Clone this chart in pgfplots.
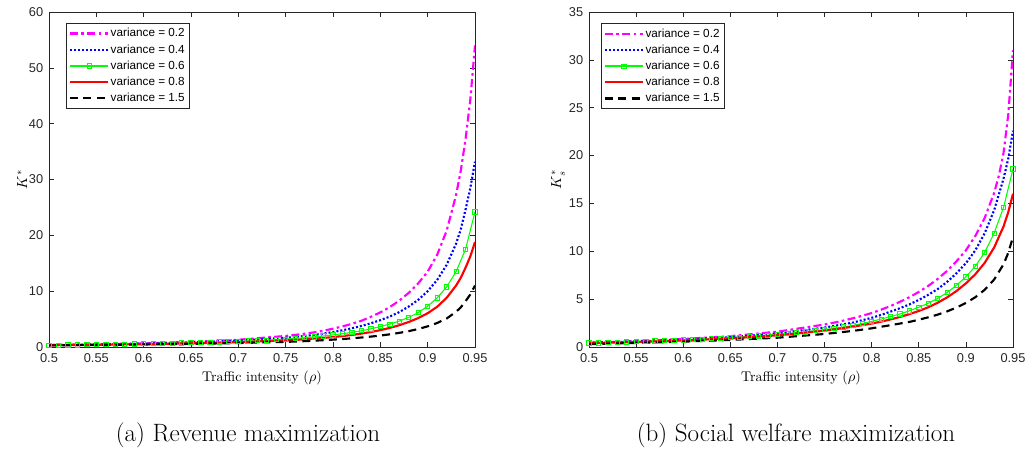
\documentclass[border=0pt]{standalone}
\usepackage{fontspec}
\setsansfont{Liberation Sans}
\usepackage{pgfplots}
\pgfplotsset{compat=1.18}

\definecolor{axgray}{RGB}{38,38,38}
\definecolor{mmag}{RGB}{255,0,255}
\definecolor{mblu}{RGB}{0,0,255}
\definecolor{mgrn}{RGB}{0,255,0}
\definecolor{mred}{RGB}{255,0,0}

\pgfplotsset{
  mlab/.style={
    scale only axis, height=251.25pt,
    xmin=0.5, xmax=0.95, ymin=0,
    xtick={0.5,0.55,0.6,0.65,0.7,0.75,0.8,0.85,0.9,0.95},
    tick align=inside, xtick pos=both, ytick pos=both,
    xticklabel pos=lower, yticklabel pos=left,
    major tick length=3.5pt,
    axis line style={axgray, line width=0.5pt},
    every tick/.style={axgray, line width=0.5pt},
    ticklabel style={font=\sffamily\fontsize{9.6}{11}\selectfont, text=axgray},
    xticklabel style={yshift=-1.2pt},
    yticklabel style={xshift=-0.8pt},
    /pgf/number format/assume math mode=true,
    xlabel={Traffic intensity ($\rho$)},
    xlabel style={at={(axis description cs:0.5,-0.0925)}, anchor=center,
      font=\fontsize{10.5}{12}\selectfont},
    ylabel style={anchor=center, font=\fontsize{10.5}{12}\selectfont},
    legend cell align=left,
    legend style={anchor=north west, draw=axgray, line width=0.5pt, fill=white,
      font=\sffamily\fontsize{8.8}{10}\selectfont, text=black,
      inner xsep=2pt, inner ysep=1.5pt, row sep=0pt,
      nodes={inner sep=1.2pt, text height=7.5pt, text depth=2.25pt}},
    legend image code/.code={\draw[mark repeat=2,mark phase=2,#1]
      plot coordinates {(0cm,0cm) (0.5cm,0cm) (1cm,0cm)};},
  },
  vmag/.style={draw=mmag, color=mmag, line width=1.6pt, dash pattern=on 6pt off 2.5pt on 2pt off 2.5pt},
  vblu/.style={draw=mblu, color=mblu, line width=1.6pt, dash pattern=on 1.5pt off 1.5pt},
  vgrn/.style={draw=mgrn, color=mgrn, line width=0.8pt, mark=square, mark size=1.6pt,
    mark options={solid, draw=mgrn, line width=0.6pt},
    legend image post style={draw=mgrn, line width=1pt}},
  vred/.style={draw=mred, color=mred, line width=1.6pt},
  vblk/.style={draw=black, color=black, line width=1.6pt, dash pattern=on 6pt off 4pt},
}

\begin{document}
\begin{tikzpicture}
\useasboundingbox (0pt,0pt) rectangle (769.5pt,343.5pt);

% (a) revenue maximization
\begin{axis}[mlab, at={(36.75pt,83.25pt)}, anchor=south west, width=319.5pt,
  ymax=60, ytick={0,10,20,30,40,50,60},
  ylabel={$K^*$}, ylabel style={at={(axis description cs:-0.063,0.5)}},
  legend style={at={(0.04,0.967)}}]
\addplot[vmag] coordinates {(0.50,0.35) (0.55,0.48) (0.60,0.66) (0.65,0.92) (0.70,1.30) (0.75,1.98) (0.76,2.17) (0.77,2.38) (0.78,2.62) (0.79,2.92) (0.80,3.28) (0.81,3.68) (0.82,4.15) (0.83,4.70) (0.84,5.40) (0.85,6.20) (0.86,7.15) (0.87,8.30) (0.88,9.70) (0.89,11.4) (0.90,13.5) (0.91,16.5) (0.92,20.8) (0.93,27.2) (0.935,31.6) (0.94,37.2) (0.945,44.2) (0.95,54.0)};
\addlegendentry{variance = 0.2}
\addplot[vblu] coordinates {(0.50,0.34) (0.55,0.45) (0.60,0.60) (0.65,0.82) (0.70,1.13) (0.75,1.65) (0.76,1.80) (0.77,1.97) (0.78,2.17) (0.79,2.40) (0.80,2.68) (0.81,3.00) (0.82,3.36) (0.83,3.77) (0.84,4.25) (0.85,4.80) (0.86,5.45) (0.87,6.25) (0.88,7.25) (0.89,8.45) (0.90,10.0) (0.91,12.0) (0.92,14.7) (0.93,18.5) (0.935,21.1) (0.94,24.6) (0.945,28.4) (0.95,33.2)};
\addlegendentry{variance = 0.4}
\addplot[vgrn] coordinates {(0.50,0.33) (0.51,0.35) (0.52,0.37) (0.53,0.39) (0.54,0.41) (0.55,0.44) (0.56,0.46) (0.57,0.49) (0.58,0.52) (0.59,0.55) (0.60,0.58) (0.61,0.61) (0.62,0.64) (0.63,0.68) (0.64,0.72) (0.65,0.76) (0.66,0.80) (0.67,0.85) (0.68,0.90) (0.69,0.96) (0.70,1.02) (0.71,1.08) (0.72,1.15) (0.73,1.23) (0.74,1.32) (0.75,1.42) (0.76,1.53) (0.77,1.66) (0.78,1.81) (0.79,1.98) (0.80,2.17) (0.81,2.38) (0.82,2.62) (0.83,2.91) (0.84,3.25) (0.85,3.66) (0.86,4.10) (0.87,4.64) (0.88,5.30) (0.89,6.16) (0.90,7.30) (0.91,8.80) (0.92,10.75) (0.93,13.5) (0.94,17.5) (0.95,24.2)};
\addlegendentry{variance = 0.6}
\addplot[vred] coordinates {(0.50,0.31) (0.55,0.40) (0.60,0.51) (0.65,0.66) (0.70,0.87) (0.75,1.18) (0.76,1.27) (0.77,1.37) (0.78,1.49) (0.79,1.62) (0.80,1.78) (0.81,1.96) (0.82,2.16) (0.83,2.40) (0.84,2.68) (0.85,3.02) (0.86,3.42) (0.87,3.90) (0.88,4.48) (0.89,5.18) (0.90,6.05) (0.91,7.20) (0.92,8.80) (0.93,11.0) (0.935,12.4) (0.94,14.2) (0.945,16.2) (0.95,18.8)};
\addlegendentry{variance = 0.8}
\addplot[vblk] coordinates {(0.50,0.29) (0.55,0.36) (0.60,0.45) (0.65,0.56) (0.70,0.71) (0.75,0.92) (0.76,0.98) (0.77,1.05) (0.78,1.13) (0.79,1.22) (0.80,1.32) (0.81,1.43) (0.82,1.55) (0.83,1.70) (0.84,1.86) (0.85,2.05) (0.86,2.27) (0.87,2.53) (0.88,2.84) (0.89,3.22) (0.90,3.70) (0.91,4.30) (0.92,5.10) (0.93,6.30) (0.935,7.10) (0.94,8.20) (0.945,9.40) (0.95,11.0)};
\addlegendentry{variance = 1.5}
\end{axis}

% (b) social welfare maximization
\begin{axis}[mlab, at={(441.75pt,83.25pt)}, anchor=south west, width=318pt,
  ymax=35, ytick={0,5,10,15,20,25,30,35},
  ylabel={$K^*_s$}, ylabel style={at={(axis description cs:-0.073,0.5)}},
  legend style={at={(0.028,0.9665)}}]
\addplot[vmag] coordinates {(0.50,0.45) (0.55,0.62) (0.60,0.84) (0.65,1.13) (0.70,1.60) (0.75,2.35) (0.76,2.54) (0.77,2.76) (0.78,3.00) (0.79,3.26) (0.80,3.55) (0.81,3.90) (0.82,4.28) (0.83,4.72) (0.84,5.20) (0.85,5.75) (0.86,6.38) (0.87,7.10) (0.88,7.95) (0.89,8.95) (0.90,10.1) (0.91,11.6) (0.92,13.5) (0.93,16.1) (0.935,17.9) (0.94,20.3) (0.945,24.3) (0.95,31.0)};
\addlegendentry{variance = 0.2}
\addplot[vblu] coordinates {(0.50,0.44) (0.55,0.58) (0.60,0.77) (0.65,1.02) (0.70,1.42) (0.75,2.03) (0.78,2.55) (0.80,3.05) (0.81,3.35) (0.82,3.70) (0.83,4.05) (0.84,4.45) (0.85,4.92) (0.86,5.45) (0.87,6.05) (0.88,6.80) (0.89,7.70) (0.90,8.75) (0.91,10.1) (0.92,11.9) (0.93,14.3) (0.94,17.6) (0.945,19.7) (0.95,22.6)};
\addlegendentry{variance = 0.4}
\addplot[vgrn] coordinates {(0.50,0.42) (0.51,0.44) (0.52,0.47) (0.53,0.50) (0.54,0.53) (0.55,0.56) (0.56,0.59) (0.57,0.63) (0.58,0.66) (0.59,0.70) (0.60,0.74) (0.61,0.78) (0.62,0.82) (0.63,0.87) (0.64,0.92) (0.65,0.98) (0.66,1.04) (0.67,1.10) (0.68,1.17) (0.69,1.24) (0.70,1.32) (0.71,1.40) (0.72,1.49) (0.73,1.59) (0.74,1.70) (0.75,1.82) (0.76,1.95) (0.77,2.09) (0.78,2.25) (0.79,2.45) (0.80,2.68) (0.81,2.92) (0.82,3.17) (0.83,3.45) (0.84,3.78) (0.85,4.15) (0.86,4.57) (0.87,5.07) (0.88,5.68) (0.89,6.45) (0.90,7.33) (0.91,8.43) (0.92,9.90) (0.93,11.9) (0.94,14.6) (0.95,18.6)};
\addlegendentry{variance = 0.6}
\addplot[vred] coordinates {(0.50,0.40) (0.55,0.52) (0.60,0.68) (0.65,0.90) (0.70,1.22) (0.75,1.70) (0.78,2.12) (0.80,2.45) (0.81,2.65) (0.82,2.88) (0.83,3.14) (0.84,3.43) (0.85,3.76) (0.86,4.15) (0.87,4.62) (0.88,5.18) (0.89,5.85) (0.90,6.65) (0.91,7.60) (0.92,8.80) (0.93,10.4) (0.94,12.6) (0.945,14.1) (0.95,16.0)};
\addlegendentry{variance = 0.8}
\addplot[vblk] coordinates {(0.50,0.30) (0.55,0.42) (0.60,0.56) (0.65,0.74) (0.70,0.97) (0.75,1.36) (0.78,1.68) (0.80,1.95) (0.82,2.28) (0.84,2.62) (0.85,2.85) (0.86,3.10) (0.87,3.38) (0.88,3.72) (0.89,4.12) (0.90,4.60) (0.91,5.20) (0.92,5.98) (0.93,7.05) (0.94,8.65) (0.945,9.85) (0.95,11.5)};
\addlegendentry{variance = 1.5}
\end{axis}

\node[font=\fontsize{18.8}{22}\selectfont, anchor=base] at (186pt,12.75pt) {(a) Revenue maximization};
\node[font=\fontsize{18.8}{22}\selectfont, anchor=base] at (597pt,12.75pt) {(b) Social welfare maximization};
\end{tikzpicture}
\end{document}
